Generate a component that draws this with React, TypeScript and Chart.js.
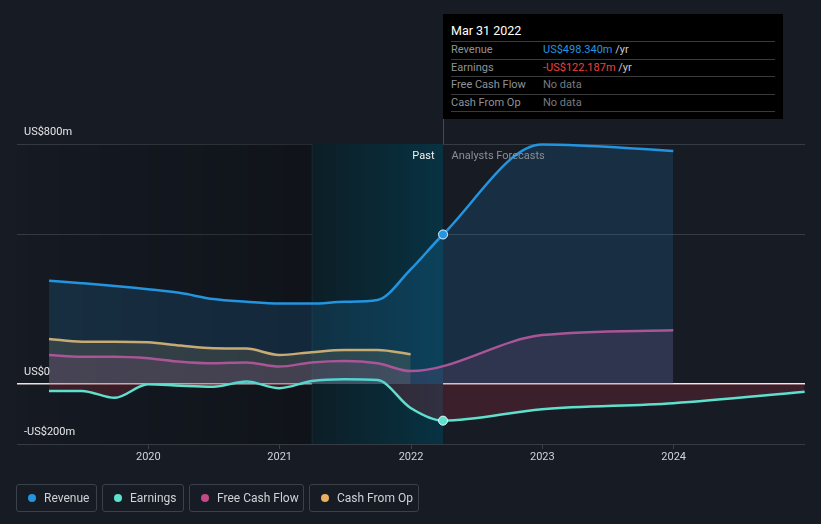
import React, { useEffect, useRef } from "react";
import { Chart, registerables } from "chart.js";

Chart.register(...registerables);

// ---------- data ----------
const pastDates = [
  "2019-03-31", "2019-06-30", "2019-09-30", "2019-12-31",
  "2020-03-31", "2020-06-30", "2020-09-30", "2020-12-31",
  "2021-03-31", "2021-06-30", "2021-09-30", "2021-12-31",
  "2022-03-31",
];
const forecastDates = ["2022-12-31", "2023-12-31", "2024-12-31"];

const revenuePast = [344, 336, 327, 316, 303, 283, 274, 268, 268, 274, 280, 382, 498.34];
const revenueForecast = [798, 777];
const earningsPast = [-23, -23, -46, -1, -6, -9, 8, -14, 10, 16, 13, -80, -122.187];
const earningsForecast = [-84, -64, -26];
const fcfPast = [97, 91, 91, 86, 74, 69, 72, 58, 72, 77, 69, 43];
const fcfForecast = [163, 179];
const cfoPast = [150, 141, 141, 139, 128, 119, 118, 97, 106, 113, 113, 99];

const xTicks = [2020, 2021, 2022, 2023, 2024];
const yTicks = [-200, 0, 500, 800];
const yLabels = [
  { v: 800, t: "US$800m" },
  { v: 0, t: "US$0" },
  { v: -200, t: "-US$200m" },
];
const tooltipDate = "2022-03-31";
const highlightStart = "2021-03-31";

const COLORS = {
  revenue: "#2394e0",
  earnings: "#5ee0cf",
  fcf: "#c4498a",
  cfo: "#e8b060",
};

const legendItems = [
  { label: "Revenue", color: COLORS.revenue, left: 16, width: 81 },
  { label: "Earnings", color: COLORS.earnings, left: 102, width: 82 },
  { label: "Free Cash Flow", color: COLORS.fcf, left: 189, width: 115 },
  { label: "Cash From Op", color: COLORS.cfo, left: 309, width: 110 },
];

const tooltipRows = [
  { label: "Revenue", value: "US$498.340m", color: COLORS.revenue, unit: " /yr" },
  { label: "Earnings", value: "-US$122.187m", color: "#f0403c", unit: " /yr" },
  { label: "Free Cash Flow", value: "No data", color: "#777b80", unit: "" },
  { label: "Cash From Op", value: "No data", color: "#777b80", unit: "" },
];

// ---------- helpers ----------
const toYear = (s: string) => {
  const [y, m, d] = s.split("-").map(Number);
  const start = Date.UTC(y, 0, 1);
  const end = Date.UTC(y + 1, 0, 1);
  return y + (Date.UTC(y, m - 1, d) - start) / (end - start);
};
const zip = (dates: string[], vals: number[]) =>
  vals.map((v, i) => ({ x: toYear(dates[i]), y: v }));

const FONT = "Roboto, 'Noto Sans', sans-serif";

export default function App() {
  const ref = useRef<HTMLCanvasElement | null>(null);

  useEffect(() => {
    if (!ref.current) return;
    const tipX = toYear(tooltipDate);
    const hlX = toYear(highlightStart);

    const revenue = [
      ...zip(pastDates, revenuePast),
      ...zip(forecastDates, revenueForecast),
    ];
    const earnings = [
      ...zip(pastDates, earningsPast),
      ...zip(forecastDates, earningsForecast),
    ];
    const fcf = [
      ...zip(pastDates, fcfPast),
      ...zip(forecastDates, fcfForecast),
    ];
    const cfo = zip(pastDates, cfoPast);

    const pr = (c: any) => (Math.abs(c.raw?.x - tipX) < 1e-6 ? 4.5 : 0);

    const bgPlugin = {
      id: "bg",
      beforeDatasetsDraw(chart: any) {
        const { ctx, chartArea, scales } = chart;
        const x0 = chartArea.left;
        const x1 = scales.x.getPixelForValue(hlX);
        const x2 = scales.x.getPixelForValue(tipX);
        const top = chartArea.top;
        const h = chartArea.bottom - chartArea.top;
        ctx.save();
        let g = ctx.createLinearGradient(x0, 0, x1, 0);
        g.addColorStop(0, "rgba(0,0,0,0.02)");
        g.addColorStop(1, "rgba(0,0,0,0.28)");
        ctx.fillStyle = g;
        ctx.fillRect(x0, top, x1 - x0, h);
        g = ctx.createLinearGradient(x1, 0, x2, 0);
        g.addColorStop(0, "rgba(12,30,38,1)");
        g.addColorStop(1, "rgba(8,50,66,1)");
        ctx.fillStyle = g;
        ctx.fillRect(x1, top, x2 - x1, h);
        ctx.fillStyle = "rgba(255,255,255,0.05)";
        ctx.fillRect(x1, top, 1, h);
        ctx.restore();
      },
      afterDraw(chart: any) {
        const { ctx, chartArea, scales } = chart;
        const x2 = Math.round(scales.x.getPixelForValue(tipX)) + 0.5;
        ctx.save();
        ctx.strokeStyle = "rgba(70,100,120,0.7)";
        ctx.lineWidth = 1;
        ctx.beginPath();
        ctx.moveTo(x2, 15);
        ctx.lineTo(x2, chartArea.top);
        ctx.stroke();
        ctx.font = `11px ${FONT}`;
        ctx.textBaseline = "middle";
        ctx.textAlign = "right";
        ctx.fillStyle = "#f0f0f0";
        ctx.fillText("Past", x2 - 9, 156);
        ctx.textAlign = "left";
        ctx.fillStyle = "#8a8f96";
        ctx.fillText("Analysts Forecasts", x2 + 8, 156);
        ctx.fillStyle = "#e6e6e6";
        for (const l of yLabels) {
          const y = scales.y.getPixelForValue(l.v);
          ctx.fillText(l.t, 24, y - 12);
        }
        ctx.restore();
      },
    };

    const chart = new Chart(ref.current, {
      type: "line",
      data: {
        datasets: [
          {
            label: "Revenue",
            data: revenue,
            borderColor: COLORS.revenue,
            backgroundColor: "rgba(35,148,224,0.16)",
            fill: "origin",
            borderWidth: 2.5,
            cubicInterpolationMode: "monotone",
            pointRadius: pr,
            pointBackgroundColor: COLORS.revenue,
            pointBorderColor: "#e8f4ff",
            pointBorderWidth: 1,
            clip: 6,
          },
          {
            label: "Earnings",
            data: earnings,
            borderColor: COLORS.earnings,
            backgroundColor: "rgba(94,224,207,0.08)",
            fill: {
              target: "origin",
              above: "rgba(94,224,207,0.06)",
              below: "rgba(190,45,65,0.22)",
            },
            borderWidth: 2.5,
            cubicInterpolationMode: "monotone",
            pointRadius: pr,
            pointBackgroundColor: COLORS.earnings,
            pointBorderColor: "#e8fffb",
            pointBorderWidth: 1,
            clip: 6,
          },
          {
            label: "Free Cash Flow",
            data: fcf,
            borderColor: COLORS.fcf,
            backgroundColor: "rgba(196,73,138,0.16)",
            fill: "origin",
            borderWidth: 2.5,
            cubicInterpolationMode: "monotone",
            pointRadius: 0,
            clip: 6,
          },
          {
            label: "Cash From Op",
            data: cfo,
            borderColor: COLORS.cfo,
            backgroundColor: "rgba(232,176,96,0.16)",
            fill: "origin",
            borderWidth: 2.5,
            cubicInterpolationMode: "monotone",
            pointRadius: 0,
            clip: 6,
          },
        ],
      },
      options: {
        animation: false,
        responsive: false,
        events: [],
        layout: { padding: { left: 17, right: 16, top: 144, bottom: 50 } },
        plugins: { legend: { display: false }, tooltip: { enabled: false } },
        scales: {
          x: {
            type: "linear",
            min: 2019,
            max: 2025,
            afterBuildTicks: (s: any) => {
              s.ticks = xTicks.map((v) => ({ value: v }));
            },
            afterFit: (s: any) => {
              s.height = 30;
            },
            ticks: {
              color: "#d0d3d8",
              font: { family: FONT, size: 11 },
              padding: 2,
              callback: (v: any) => String(v),
            },
            grid: {
              drawOnChartArea: false,
              drawTicks: true,
              tickLength: 5,
              color: "#3a3f48",
            },
            border: { display: false },
          },
          y: {
            type: "linear",
            min: -200,
            max: 800,
            afterBuildTicks: (s: any) => {
              s.ticks = yTicks.map((v) => ({ value: v }));
            },
            afterFit: (s: any) => {
              s.width = 0;
            },
            ticks: { display: false },
            grid: {
              drawTicks: false,
              color: (c: any) => (c.tick && c.tick.value === 0 ? "#f2e8e8" : "#363b44"),
              lineWidth: (c: any) => (c.tick && c.tick.value === 0 ? 1.5 : 1),
            },
            border: { display: false },
          },
        },
      },
      plugins: [bgPlugin],
    } as any);
    return () => chart.destroy();
  }, []);

  return (
    <div
      style={{
        position: "fixed",
        left: 0,
        top: 0,
        width: 821,
        height: 524,
        background: "#161b24",
        fontFamily: FONT,
        overflow: "hidden",
      }}
    >
      <canvas ref={ref} width={821} height={524} style={{ position: "absolute", left: 0, top: 0 }} />
      <div
        style={{
          position: "absolute",
          left: 443,
          top: 14,
          width: 340,
          height: 105,
          background: "#000",
        }}
      >
        <div
          style={{
            position: "absolute",
            left: 8,
            top: 10,
            fontSize: 12.5,
            color: "#ffffff",
            lineHeight: "14px",
          }}
        >
          Mar 31 2022
        </div>
        {tooltipRows.map((r, i) => (
          <div
            key={r.label}
            style={{
              position: "absolute",
              left: 8,
              top: 27 + i * 17.5,
              width: 324,
              height: 17,
              borderTop: "1px solid #3a3a3a",
              fontSize: 11,
              lineHeight: "16px",
            }}
          >
            <span style={{ position: "absolute", left: 0, top: 0, color: "#8f9399" }}>{r.label}</span>
            <span style={{ position: "absolute", left: 92, top: 0, whiteSpace: "nowrap" }}>
              <span style={{ color: r.color }}>{r.value}</span>
              <span style={{ color: "#c8cbd0" }}>{r.unit}</span>
            </span>
          </div>
        ))}
        <div
          style={{
            position: "absolute",
            left: 8,
            top: 97,
            width: 324,
            borderTop: "1px solid #3a3a3a",
          }}
        />
      </div>
      {legendItems.map((l) => (
        <div
          key={l.label}
          style={{
            position: "absolute",
            left: l.left,
            top: 484,
            width: l.width,
            height: 28,
            boxSizing: "border-box",
            border: "1px solid #3b414b",
            borderRadius: 3,
            display: "flex",
            alignItems: "center",
            paddingLeft: 11,
            fontSize: 12,
            color: "#cfd2d6",
          }}
        >
          <span
            style={{
              width: 8,
              height: 8,
              borderRadius: 4,
              background: l.color,
              marginRight: 8,
              flex: "none",
            }}
          />
          <span>{l.label}</span>
        </div>
      ))}
    </div>
  );
}
